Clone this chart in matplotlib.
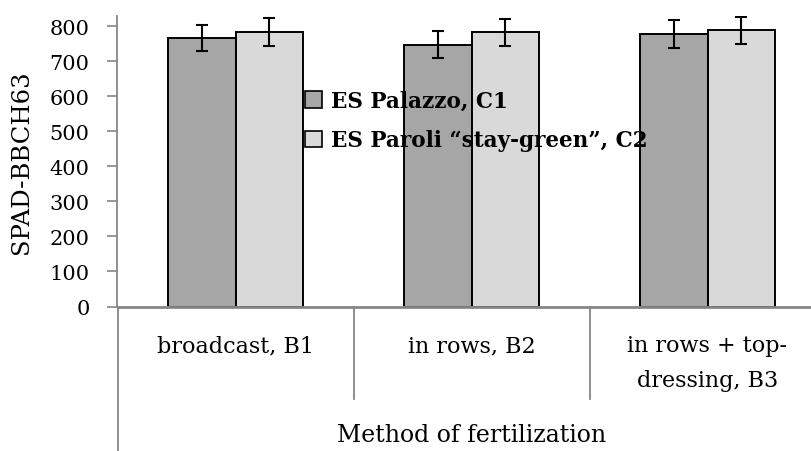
import matplotlib
matplotlib.use("Agg")
import matplotlib.pyplot as plt
import numpy as np
from matplotlib.patches import Rectangle

categories = ["broadcast, B1", "in rows, B2", "in rows + top-\ndressing, B3"]
series_names = ["ES Palazzo, C1", "ES Paroli \u201cstay-green\u201d, C2"]
c1_values = [767, 748, 778]
c1_errors = [38.5, 38.5, 39.5]
c2_values = [783, 783, 789]
c2_errors = [40, 39.5, 39]
yticks = [0, 100, 200, 300, 400, 500, 600, 700, 800]
ylabel = "SPAD-BBCH63"
xlabel = "Method of fertilization"

colors = ["#A6A6A6", "#D9D9D9"]
axis_gray = "#868686"

plt.rcParams['font.family'] = ['DejaVu Serif']

W, H = 812, 452
fig = plt.figure(figsize=(W/100, H/100), dpi=100)
ax_left, ax_bottom = 117.5, 452 - 307.5
ax_w, ax_h = 708, 290.2
ax = fig.add_axes([ax_left/W, ax_bottom/H, ax_w/W, ax_h/H])

x = np.arange(len(categories))
bw = 0.287
ekw = dict(ecolor="black", elinewidth=1.5, capsize=4.5, capthick=1.5)
ax.bar(x - bw/2, c1_values, bw, yerr=c1_errors, color=colors[0], edgecolor="black",
       linewidth=1.4, error_kw=ekw, zorder=2)
ax.bar(x + bw/2, c2_values, bw, yerr=c2_errors, color=colors[1], edgecolor="black",
       linewidth=1.4, error_kw=ekw, zorder=2)

ax.set_xlim(-0.5, len(categories) - 0.5)
ax.set_ylim(0, 829)
ax.set_yticks(yticks)
ax.tick_params(axis='y', direction='out', length=7, width=1.2, color=axis_gray,
               labelsize=15, pad=13)
ax.set_xticks(x)
ax.set_xticklabels(categories, fontsize=16, linespacing=1.75)
ax.tick_params(axis='x', length=0, pad=20)

for s in ['top', 'right']:
    ax.spines[s].set_visible(False)
ax.spines['left'].set_color(axis_gray)
ax.spines['left'].set_linewidth(1.3)
ax.spines['bottom'].set_color(axis_gray)
ax.spines['bottom'].set_linewidth(2.0)

# category separators below the axis
trans = matplotlib.transforms.blended_transform_factory(ax.transData, ax.transAxes)
for b in x[:-1] + 0.5:
    ax.plot([b, b], [0, -92/ax_h], transform=trans, color=axis_gray, lw=1.3, clip_on=False)
ax.plot([-0.5, -0.5], [0, -150/ax_h], transform=trans, color=axis_gray, lw=1.3, clip_on=False)

ax.set_ylabel(ylabel, fontsize=17.5)
ax.yaxis.set_label_coords(-0.119, 0.5)
ax.text(0.5, -(442 - 307.5)/ax_h, xlabel, transform=ax.transAxes, ha='center',
        va='baseline', fontsize=17)

handles = [Rectangle((0, 0), 1, 1, facecolor=c, edgecolor="black", linewidth=1.2) for c in colors]
leg = fig.legend(handles, series_names, loc='upper left',
                 bbox_to_anchor=(305/W, 1 - 91/H), frameon=False,
                 prop={'weight': 'bold', 'size': 15.5}, handlelength=0.8, handleheight=0.8,
                 handletextpad=0.4, labelspacing=0.8, borderpad=0, borderaxespad=0)

fig.savefig("out.png", dpi=100)
